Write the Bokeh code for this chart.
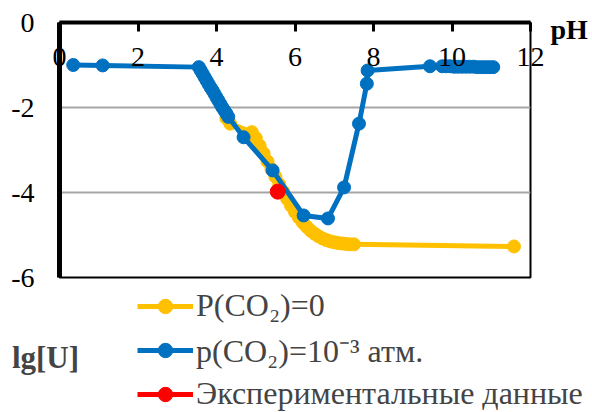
from bokeh.plotting import figure
from bokeh.layouts import column, row
from bokeh.models import Range1d, Legend, LegendItem, Label, FixedTicker, LinearAxis
from bokeh.embed import file_html
from bokeh.resources import INLINE

# ---- data ----
ph_p0 = [4.25, 4.35, 4.90, 5.00, 5.10, 5.20, 5.30, 5.40, 5.50, 5.60, 5.70, 5.80, 5.90,
         6.00, 6.10, 6.20, 6.30, 6.40, 6.50, 6.60, 6.70, 6.80, 6.90, 7.00, 7.10,
         7.20, 7.30, 7.40, 7.50, 11.58]
lg_p0 = [-2.25, -2.38, -2.58, -2.72, -2.90, -3.08, -3.27, -3.45, -3.63, -3.81, -3.98, -4.15, -4.31,
         -4.46, -4.59, -4.71, -4.81, -4.90, -4.97, -5.03, -5.08, -5.12, -5.15, -5.17, -5.19,
         -5.20, -5.21, -5.22, -5.22, -5.27]

ph_p3 = [0.35, 1.10, 3.55, 3.60, 3.65, 3.70, 3.75, 3.80, 3.85, 3.90, 3.95, 4.00, 4.05,
         4.10, 4.15, 4.20, 4.25, 4.30, 4.69, 5.43, 6.22, 6.84, 7.25, 7.63, 7.83, 7.85,
         9.44, 9.75, 9.85, 9.95, 10.05, 10.15, 10.25, 10.35, 10.45, 10.55, 10.65, 10.75,
         10.85, 10.95, 11.05]
lg_p3 = [-1.00, -1.01, -1.05, -1.13, -1.21, -1.29, -1.37, -1.45, -1.53, -1.60, -1.68, -1.76, -1.84,
         -1.92, -2.00, -2.07, -2.14, -2.22, -2.70, -3.48, -4.54, -4.61, -3.88, -2.38, -1.44, -1.13,
         -1.03, -1.03, -1.03, -1.03, -1.04, -1.04, -1.04, -1.04, -1.04, -1.04, -1.05, -1.05,
         -1.05, -1.05, -1.05]

ph_exp = [5.56]
lg_exp = [-3.98]

x_ticks = [0, 2, 4, 6, 8, 10, 12]
y_ticks = [-6, -4, -2, 0]
y_tick_labels = {-6: "-6", -4: "-4", -2: "-2", 0: "0"}

labels = ["P(CO\u2082)=0", "p(CO\u2082)=10\u207b\u00b3 атм.", "Экспериментальные данные"]
colors = ["#FFC000", "#0070C0", "#FF0000"]
x_title = "pH"
y_title = "lg[U]"

FONT = "Liberation Serif"
NAN = float("nan")
PH_POS = -0.165   # vertical position of the "pH" caption (placement only)

# ---- main chart ----
p = figure(width=592, height=292, x_range=Range1d(0, 12), y_range=Range1d(-6, 0), title=None,
           output_backend="svg", toolbar_location=None, x_axis_location="above",
           min_border_left=59, min_border_right=62, min_border_top=22, min_border_bottom=15)
p.background_fill_color = "white"
p.border_fill_color = "white"
p.outline_line_color = "black"
p.outline_line_width = 2

xa = p.xaxis[0]
xa.ticker = FixedTicker(ticks=x_ticks)
xa.axis_line_width = 4
xa.major_tick_in = 9
xa.major_tick_out = 0
xa.major_tick_line_width = 3
xa.minor_tick_line_color = None
xa.major_label_standoff = -43
xa.major_label_text_font = FONT
xa.major_label_text_font_size = "28px"
xa.major_label_text_color = "black"

ya = p.yaxis[0]
ya.ticker = FixedTicker(ticks=y_ticks)
ya.major_label_overrides = y_tick_labels
ya.axis_line_width = 5
ya.major_tick_in = 0
ya.major_tick_out = 0
ya.minor_tick_line_color = None
ya.major_label_standoff = 25
ya.major_label_text_font = FONT
ya.major_label_text_font_size = "28px"
ya.major_label_text_color = "black"

# "pH" caption, right of the top axis end
ra = LinearAxis(ticker=FixedTicker(ticks=[PH_POS]), major_label_overrides={PH_POS: x_title},
                axis_line_color=None, major_tick_line_color=None, minor_tick_line_color=None,
                major_tick_in=0, major_tick_out=0, major_label_standoff=20,
                major_label_text_font=FONT, major_label_text_font_size="28px",
                major_label_text_font_style="bold", major_label_text_color="black")
p.add_layout(ra, "right")

p.xgrid.visible = False
p.ygrid.ticker = FixedTicker(ticks=[-4, -2])
p.ygrid.grid_line_color = "#a6a6a6"
p.ygrid.grid_line_width = 2

p.line(ph_p0, lg_p0, line_color=colors[0], line_width=5)
p.scatter(ph_p0, lg_p0, size=13, fill_color=colors[0], line_color=colors[0])
p.line(ph_p3, lg_p3, line_color=colors[1], line_width=5)
p.scatter(ph_p3, lg_p3, size=13, fill_color=colors[1], line_color=colors[1])
p.scatter(ph_exp, lg_exp, size=15, fill_color=colors[2], line_color=colors[2])

# ---- legend strip ----
b = figure(width=592, height=120, x_range=Range1d(0, 592), y_range=Range1d(120, 0), title=None,
           output_backend="svg", toolbar_location=None,
           x_axis_location=None, y_axis_location=None,
           min_border_left=0, min_border_right=0, min_border_top=0, min_border_bottom=0)
b.grid.visible = False
b.outline_line_color = None
b.background_fill_color = "white"
b.border_fill_color = "white"

items = []
for lab, col, sz in zip(labels, colors, [13, 13, 15]):
    lr = b.line(x=[NAN], y=[NAN], line_color=col, line_width=5)
    sr = b.scatter(x=[NAN], y=[NAN], size=sz, fill_color=col, line_color=col)
    items.append(LegendItem(label=lab, renderers=[lr, sr]))
legend = Legend(items=items, location=(137, 0), padding=0, margin=0, spacing=4,
                glyph_width=56, glyph_height=36, label_height=36, label_standoff=3,
                label_text_font=FONT, label_text_font_size="32px",
                background_fill_alpha=0, border_line_color=None)
b.add_layout(legend, "center")
b.add_layout(Label(x=45, y=65, text=y_title, text_font=FONT, text_font_size="31px",
                   text_font_style="bold", text_align="center", text_baseline="middle"))

# wrapping the chart in a row keeps the strip's frame from being aligned to the chart's frame
layout = column(row(p, spacing=0), b, spacing=0)
open("out.html", "w").write(file_html(layout, INLINE))
